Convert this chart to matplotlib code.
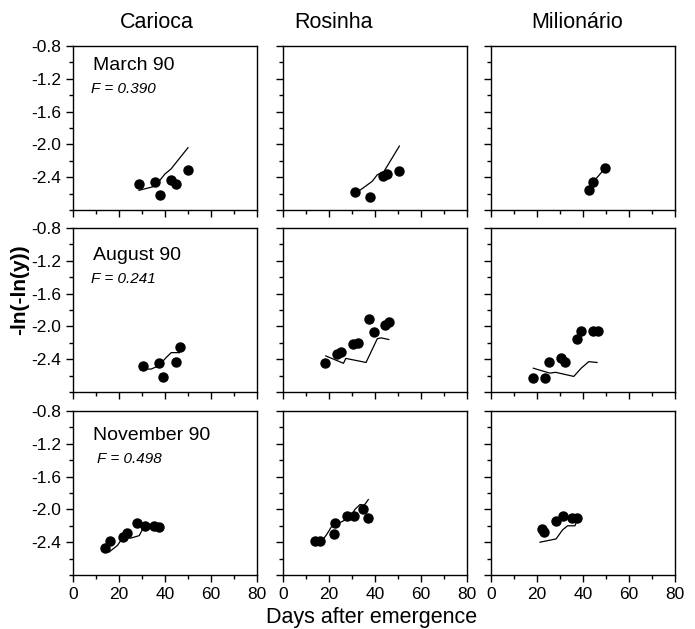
import numpy as np
import matplotlib.pyplot as plt
from matplotlib.ticker import MultipleLocator

plt.rcParams['font.family'] = ['Liberation Sans', 'DejaVu Sans']

cultivars = ["Carioca", "Rosinha", "Milionário"]
seasons = ["March 90", "August 90", "November 90"]
f_values = ["F = 0.390", "F = 0.241", "F = 0.498"]

# observed points (days, -ln(-ln(y))), row = season, col = cultivar
obs_x = [
    [[28.7, 35.7, 37.8, 42.6, 44.8, 50.0],
     [31.1, 38.0, 43.4, 45.4, 50.4],
     [42.4, 44.4, 49.6]],
    [[30.4, 37.3, 39.3, 44.6, 46.4],
     [18.3, 23.4, 25.4, 30.4, 32.5, 37.6, 39.6, 44.4, 46.3],
     [18.4, 23.3, 25.4, 30.3, 32.3, 37.3, 39.3, 44.2, 46.4]],
    [[14.0, 16.0, 21.8, 23.3, 28.0, 31.4, 35.3, 37.2],
     [13.8, 16.0, 22.0, 22.8, 27.7, 30.9, 34.6, 37.0],
     [22.1, 23.2, 28.1, 31.1, 35.1, 37.2]],
]
obs_y = [
    [[-2.48, -2.46, -2.62, -2.43, -2.48, -2.31],
     [-2.58, -2.64, -2.39, -2.36, -2.33],
     [-2.56, -2.46, -2.29]],
    [[-2.48, -2.45, -2.62, -2.44, -2.25],
     [-2.45, -2.34, -2.31, -2.21, -2.20, -1.91, -2.07, -1.98, -1.95],
     [-2.63, -2.63, -2.44, -2.38, -2.44, -2.15, -2.06, -2.06, -2.05]],
    [[-2.47, -2.38, -2.34, -2.29, -2.17, -2.20, -2.20, -2.22],
     [-2.38, -2.38, -2.30, -2.16, -2.08, -2.08, -2.00, -2.10],
     [-2.24, -2.27, -2.14, -2.08, -2.10, -2.10]],
]

# simulated curves
sim_x = [
    [[28.7, 35.7, 40.0, 42.6, 50.0],
     [32.9, 38.8, 41.0, 43.9, 50.6],
     [42.4, 44.4, 49.6]],
    [[30.4, 34.0, 37.3, 40.5, 42.7, 46.3],
     [18.6, 26.3, 27.3, 36.1, 41.0, 42.7, 46.0],
     [18.4, 25.6, 28.1, 36.0, 39.2, 42.5, 46.1]],
    [[15.7, 19.3, 21.5, 25.1, 28.8, 31.0, 37.2],
     [14.5, 16.7, 18.9, 21.1, 24.8, 29.1, 31.3, 33.5, 35.3, 37.1],
     [21.3, 28.3, 31.1, 33.3, 36.5, 37.2]],
]
sim_y = [
    [[-2.56, -2.51, -2.36, -2.30, -2.04],
     [-2.57, -2.45, -2.37, -2.33, -2.02],
     [-2.56, -2.46, -2.29]],
    [[-2.52, -2.52, -2.48, -2.38, -2.32, -2.32],
     [-2.36, -2.45, -2.39, -2.44, -2.15, -2.14, -2.16],
     [-2.51, -2.57, -2.56, -2.61, -2.51, -2.43, -2.44]],
    [[-2.52, -2.44, -2.35, -2.35, -2.32, -2.20, -2.20],
     [-2.39, -2.39, -2.31, -2.21, -2.16, -2.10, -2.00, -1.94, -1.95, -1.88],
     [-2.40, -2.36, -2.25, -2.20, -2.20, -2.15]],
]

W, H = 695, 629
fig = plt.figure(figsize=(W / 100, H / 100), dpi=100)

lefts = [73, 283, 491]
tops = [46, 228, 411]
pw, ph = 184, 164

for r in range(3):
    for c in range(3):
        ax = fig.add_axes([lefts[c] / W, 1 - (tops[r] + ph) / H, pw / W, ph / H])
        ax.plot(sim_x[r][c], sim_y[r][c], color="black", lw=0.9)
        ax.plot(obs_x[r][c], obs_y[r][c], "o", color="black", ms=6.5, ls="none")
        ax.set_xlim(0, 80)
        ax.set_ylim(-2.8, -0.8)
        ax.xaxis.set_major_locator(MultipleLocator(20))
        ax.xaxis.set_minor_locator(MultipleLocator(10))
        ax.yaxis.set_major_locator(MultipleLocator(0.4))
        ax.yaxis.set_minor_locator(MultipleLocator(0.2))
        ax.tick_params(which="major", length=5, width=1, labelsize=12.5, direction="out")
        ax.tick_params(which="minor", length=3, width=1, direction="out")
        for s in ax.spines.values():
            s.set_linewidth(1)
        if c == 0:
            ax.set_yticks([-0.8, -1.2, -1.6, -2.0, -2.4])
            ax.set_yticklabels(["-0.8", "-1.2", "-1.6", "-2.0", "-2.4"])
            ax.text(0.11, [0.88, 0.83, 0.85][r], seasons[r], transform=ax.transAxes,
                    fontsize=14, va="center", ha="left")
            ax.text([0.10, 0.10, 0.13][r], [0.74, 0.69, 0.71][r], f_values[r],
                    transform=ax.transAxes, fontsize=11, style="italic",
                    va="center", ha="left")
        else:
            ax.set_yticklabels([])
        if r == 2:
            ax.set_xticks([0, 20, 40, 60, 80])
        else:
            ax.set_xticklabels([])

title_x = [157, 334, 577]
for name, x in zip(cultivars, title_x):
    fig.text(x / W, 1 - 22 / H, name, fontsize=15.5, ha="center", va="center")

fig.text(20 / W, 1 - 290 / H, "-ln(-ln(y))", fontsize=15, fontweight="bold",
         rotation=90, ha="center", va="center")
fig.text(372 / W, 1 - 617 / H, "Days after emergence", fontsize=15.5,
         ha="center", va="center")

fig.savefig("out.png", dpi=100)
